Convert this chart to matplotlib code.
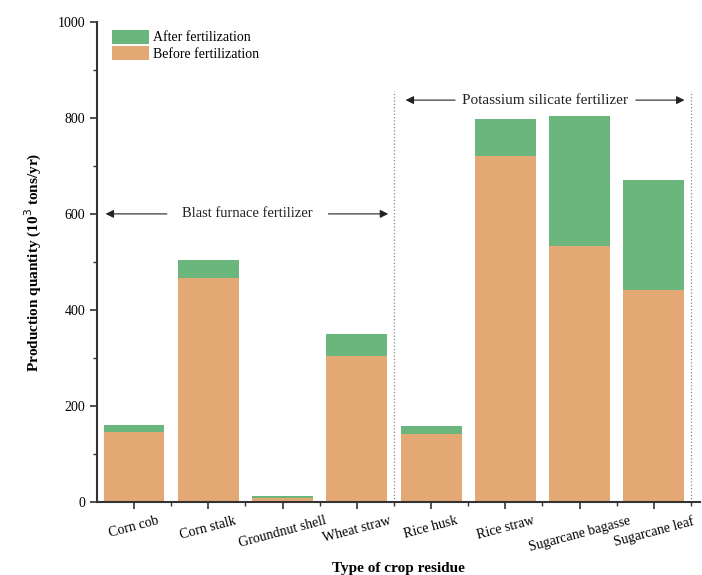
import matplotlib
matplotlib.use("Agg")
import matplotlib.pyplot as plt
from matplotlib.ticker import MultipleLocator, FixedLocator
import numpy as np

categories = ["Corn cob", "Corn stalk", "Groundnut shell", "Wheat straw",
              "Rice husk", "Rice straw", "Sugarcane bagasse", "Sugarcane leaf"]
before = [146, 467, 8, 304, 142, 721, 533, 442]
after_total = [160, 505, 12, 350, 158, 797, 803, 670]
after_extra = [t - b for t, b in zip(after_total, before)]

plt.rcParams["font.family"] = ["Liberation Serif", "DejaVu Serif"]

fig = plt.figure(figsize=(7.02, 5.75), dpi=100)
ax = fig.add_axes([0.138, 0.127, 0.859, 0.835])

x = np.arange(len(categories))
orange = "#e4a874"
green = "#6bb67c"
ax.bar(x, before, width=0.82, color=orange, label="Before fertilization", zorder=2)
ax.bar(x, after_extra, width=0.82, bottom=before, color=green,
       label="After fertilization", zorder=2)

ax.set_xlim(-0.5, 7.62)
ax.set_ylim(0, 1000)
ax.yaxis.set_major_locator(MultipleLocator(200))
ax.yaxis.set_minor_locator(MultipleLocator(100))
ax.set_xticks(x)
ax.set_xticklabels(categories, rotation=15, ha="center", fontsize=10)
ax.xaxis.set_minor_locator(FixedLocator(np.arange(0.5, 7.6, 1.0)))
ax.tick_params(axis="both", which="major", direction="out", length=5, width=1.2,
               labelsize=10, color="#333333")
ax.tick_params(axis="x", which="major", pad=4)
ax.tick_params(axis="both", which="minor", direction="out", length=3, width=1.0,
               color="#333333")
for side in ("top", "right"):
    ax.spines[side].set_visible(False)
for side in ("left", "bottom"):
    ax.spines[side].set_linewidth(1.5)
    ax.spines[side].set_color("#333333")

# group separators
ax.plot([3.5, 3.5], [0, 855], ls=":", color="#888888", lw=0.9, zorder=1)
ax.plot([7.5, 7.5], [0, 855], ls=":", color="#888888", lw=0.9, zorder=1)

# group annotations with arrows
arrow_kw = dict(arrowstyle="-|>", color="#222222", lw=0.8, mutation_scale=12)
ax.text(1.53, 600, "Blast furnace fertilizer", ha="center", va="center",
        fontsize=10.5, color="#222222")
ax.annotate("", xy=(-0.42, 600), xytext=(0.48, 600), arrowprops=arrow_kw)
ax.annotate("", xy=(3.46, 600), xytext=(2.58, 600), arrowprops=arrow_kw)

ax.text(5.53, 837, "Potassium silicate fertilizer", ha="center", va="center",
        fontsize=11, color="#222222")
ax.annotate("", xy=(3.62, 837), xytext=(4.36, 837), arrowprops=arrow_kw)
ax.annotate("", xy=(7.45, 837), xytext=(6.72, 837), arrowprops=arrow_kw)

ax.set_xlabel("Type of crop residue", fontsize=11, fontweight="bold", labelpad=6)
ax.set_ylabel("Production quantity (10$^3$ tons/yr)", fontsize=11,
              fontweight="bold", labelpad=10)

handles, labels = ax.get_legend_handles_labels()
ax.legend(handles[::-1], labels[::-1], loc="upper left", bbox_to_anchor=(0.005, 1.01),
          frameon=False, fontsize=10, handlelength=2.6, handleheight=1.2,
          handletextpad=0.3, labelspacing=0.1)

fig.savefig("out.png", dpi=100)
